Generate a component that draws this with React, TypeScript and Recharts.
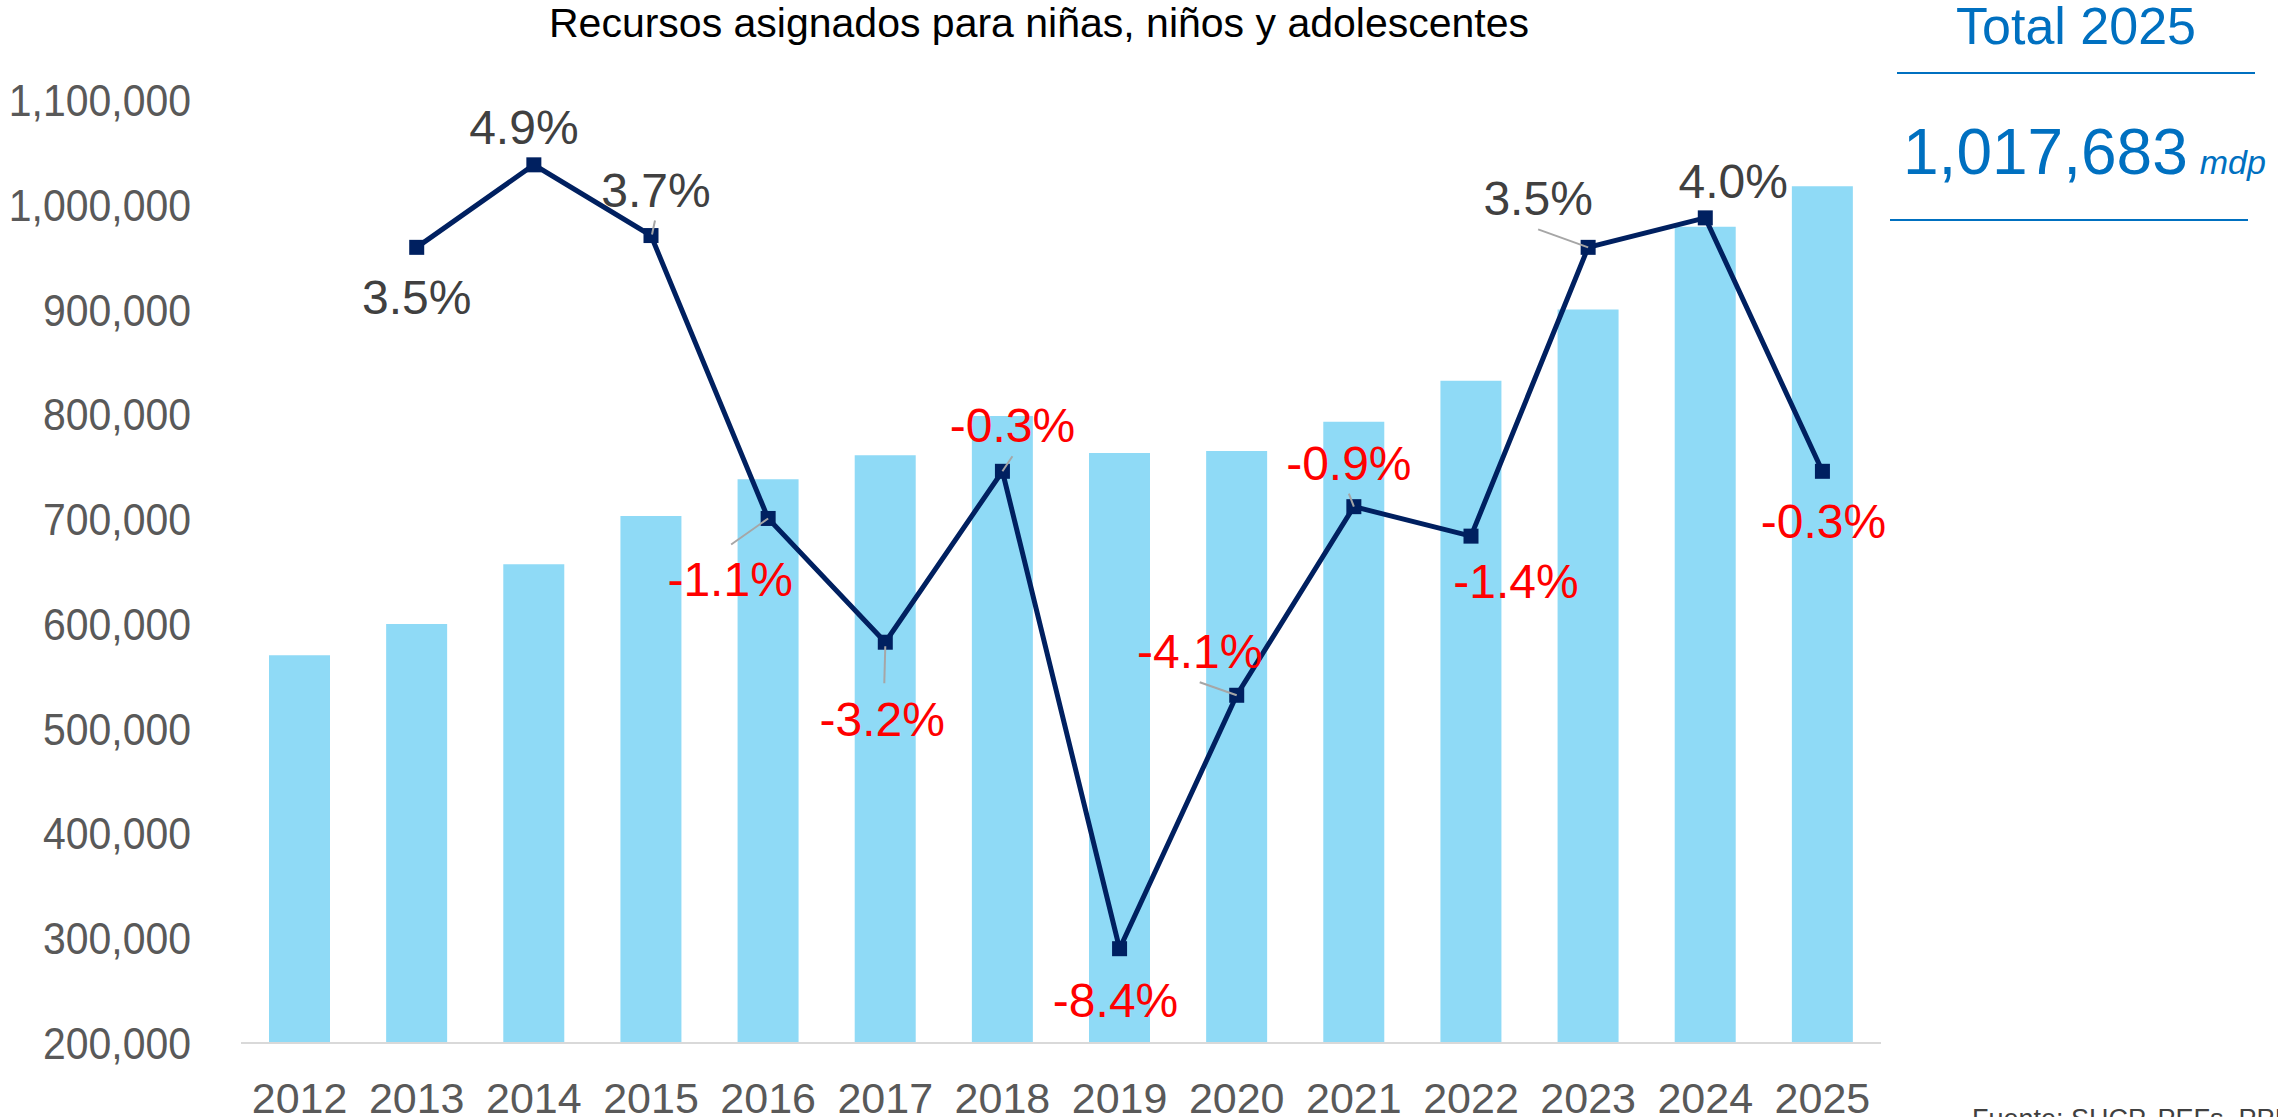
import React from 'react';
import { ComposedChart, Bar, Line, XAxis, YAxis, LabelList } from 'recharts';

const years = ['2012', '2013', '2014', '2015', '2016', '2017', '2018', '2019', '2020', '2021', '2022', '2023', '2024', '2025'];
const totals = [570000, 600000, 657000, 703000, 738000, 761000, 798500, 763000, 765000, 793000, 832000, 900000, 979000, 1017683];
const growth = [null, 3.5, 4.9, 3.7, -1.1, -3.2, -0.3, -8.4, -4.1, -0.9, -1.4, 3.5, 4.0, -0.3];
const yTicks = [200000, 300000, 400000, 500000, 600000, 700000, 800000, 900000, 1000000, 1100000];

const data = years.map((year, i) => ({ year, total: totals[i], growth: growth[i] }));

const FONT = '"Liberation Sans", Arial, Helvetica, sans-serif';
const NAVY = '#002060';
const BLUE = '#0070C0';

// where each % label sits relative to its marker (dx, dy of text centre)
const labelOffsets: [number, number][] = [
  [0, 0], [0, 50], [-10, -38], [5, -46], [-38, 61], [-3, 77], [10, -46],
  [-4, 51], [-37, -44], [-5, -44], [45, 45], [-50, -49], [28, -37], [1, 50],
];
// thin grey leader lines, relative to marker
const leaders: (number[] | null)[] = [
  null, null, null, [4, -15, 1, -1], [-37, 26, 0, 0], [-1, 41, 0, 4], [10, -15, 0, 0],
  null, [-37, -13, 0, 0], [-5, -13, 0, 0], null, [-50, -18, 0, 0], null, null,
];

function SquareDot(props: any) {
  const { cx, cy, index } = props;
  if (cx == null || cy == null) return <g key={`d-${index}`} />;
  return <rect key={`d-${index}`} x={cx - 7.5} y={cy - 7.5} width={15} height={15} fill={NAVY} />;
}

function GrowthLabel(props: any) {
  const { x, y, value, index } = props;
  if (value == null || x == null || y == null) return null;
  const [dx, dy] = labelOffsets[index] || [0, 0];
  const l = leaders[index];
  return (
    <g>
      {l && <line x1={x + l[0]} y1={y + l[1]} x2={x + l[2]} y2={y + l[3]} stroke="#A6A6A6" strokeWidth={2} />}
      <text x={x + dx} y={y + dy + 17} textAnchor="middle" fontSize={48} fontFamily={FONT}
        fill={value < 0 ? '#FF0000' : '#404040'}>
        {value.toFixed(1)}%
      </text>
    </g>
  );
}

function XTick(props: any) {
  const { x, payload } = props;
  return (
    <text x={x} y={1113} textAnchor="middle" fontSize={43} fontFamily={FONT} fill="#595959">
      {payload.value}
    </text>
  );
}

function YTick(props: any) {
  const { y, payload } = props;
  // the original axis font is a touch condensed
  return (
    <text transform={`translate(191, ${y + 16}) scale(0.91, 1)`} textAnchor="end" fontSize={45} fontFamily={FONT} fill="#595959">
      {Number(payload.value).toLocaleString('en-US')}
    </text>
  );
}

export default function App() {
  return (
    <div style={{ position: 'absolute', left: 0, top: 0, width: 2278, height: 1117, overflow: 'hidden', background: '#fff' }}>
      <ComposedChart width={2278} height={1117} data={data} margin={{ top: 100, right: 397, bottom: 0, left: 0 }}>
        <XAxis dataKey="year" height={74} tickLine={false} axisLine={{ stroke: '#D9D9D9', strokeWidth: 2 }} tick={<XTick />} interval={0} />
        <YAxis yAxisId="left" width={241} domain={[200000, 1100000]} ticks={yTicks} axisLine={false} tickLine={false} tick={<YTick />} interval={0} />
        <YAxis yAxisId="pct" orientation="right" domain={[-10, 6]} hide />
        <Bar yAxisId="left" dataKey="total" fill="#8FDAF6" barSize={61} isAnimationActive={false} />
        <Line yAxisId="pct" dataKey="growth" type="linear" stroke={NAVY} strokeWidth={5}
          dot={<SquareDot />} activeDot={false} isAnimationActive={false}>
          <LabelList dataKey="growth" content={<GrowthLabel />} />
        </Line>
      </ComposedChart>
      <svg width={2278} height={1117} style={{ position: 'absolute', left: 0, top: 0, pointerEvents: 'none' }}>
        <text x={1039} y={37} textAnchor="middle" fontSize={41} fontFamily={FONT} fill="#000">
          Recursos asignados para niñas, niños y adolescentes
        </text>
        <text x={2076} y={44} textAnchor="middle" fontSize={52} fontFamily={FONT} fill={BLUE}>Total 2025</text>
        <line x1={1897} y1={73} x2={2255} y2={73} stroke={BLUE} strokeWidth={2} />
        <text x={1903} y={174} fontSize={64} fontFamily={FONT} fill={BLUE}>
          1,017,683
          <tspan dx={12} fontSize={34} fontStyle="italic">mdp</tspan>
        </text>
        <line x1={1890} y1={220} x2={2248} y2={220} stroke={BLUE} strokeWidth={2} />
        <text x={1972} y={1128} fontSize={27} fontFamily={FONT} fill="#404040">Fuente: SHCP, PEFs, PPEF 2025</text>
      </svg>
    </div>
  );
}
